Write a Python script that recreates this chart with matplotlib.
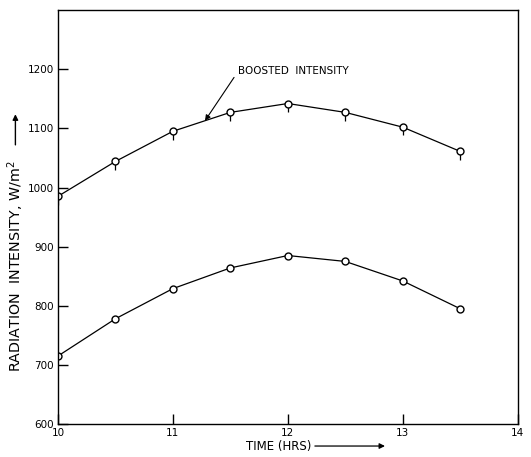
import numpy as np
import matplotlib.pyplot as plt

# data
time_hrs = [10, 10.5, 11, 11.5, 12, 12.5, 13, 13.5]
boosted = [985, 1044, 1095, 1127, 1142, 1127, 1102, 1061]
normal = [715, 778, 829, 864, 885, 875, 842, 795]

x_ticks = [10, 11, 12, 13, 14]
y_ticks = [600, 700, 800, 900, 1000, 1100, 1200]

plt.rcParams['font.family'] = 'DejaVu Sans'

fig = plt.figure(figsize=(5.31, 4.57), dpi=100)
ax = fig.add_axes([0.109, 0.072, 0.866, 0.906])

# boosted curve, small tails below each marker
ax.errorbar(time_hrs, boosted, yerr=[[14] * len(boosted), [0] * len(boosted)],
            fmt='-o', color='black', lw=0.9, ms=5, mfc='white', mec='black',
            mew=1.0, elinewidth=0.9, capsize=0)
ax.plot(time_hrs, normal, '-o', color='black', lw=0.9, ms=5,
        mfc='white', mec='black', mew=1.0)

ax.set_xlim(10, 14)
ax.set_ylim(600, 1300)
ax.set_xticks(x_ticks)
ax.set_yticks(y_ticks)
ax.tick_params(direction='in', length=7, width=1.0, labelsize=7.5, pad=3)
for s in ax.spines.values():
    s.set_linewidth(1.0)

# annotation
ax.annotate('BOOSTED  INTENSITY', xy=(11.28, 1113), xytext=(11.57, 1197),
            fontsize=7.5, ha='left', va='center',
            arrowprops=dict(arrowstyle='-|>', color='black', lw=0.8,
                            shrinkA=2, shrinkB=0, mutation_scale=8,
                            relpos=(0, 0.5)))

# axis labels with arrows
fig.text(0.029, 0.186, 'RADIATION  INTENSITY, W/m$^{2}$', rotation=90,
         fontsize=10.3, ha='center', va='bottom')
ax.annotate('', xy=(0.029, 0.75), xycoords='figure fraction',
            xytext=(0.029, 0.683), textcoords='figure fraction',
            arrowprops=dict(arrowstyle='-|>', color='black', lw=1.0,
                            mutation_scale=8, shrinkA=0, shrinkB=0))
fig.text(0.524, 0.024, 'TIME (HRS)', fontsize=8.5, ha='center', va='center')
ax.annotate('', xy=(0.725, 0.024), xycoords='figure fraction',
            xytext=(0.593, 0.024), textcoords='figure fraction',
            arrowprops=dict(arrowstyle='-|>', color='black', lw=0.9,
                            mutation_scale=8, shrinkA=0, shrinkB=0))

fig.savefig('out.png', dpi=100)
